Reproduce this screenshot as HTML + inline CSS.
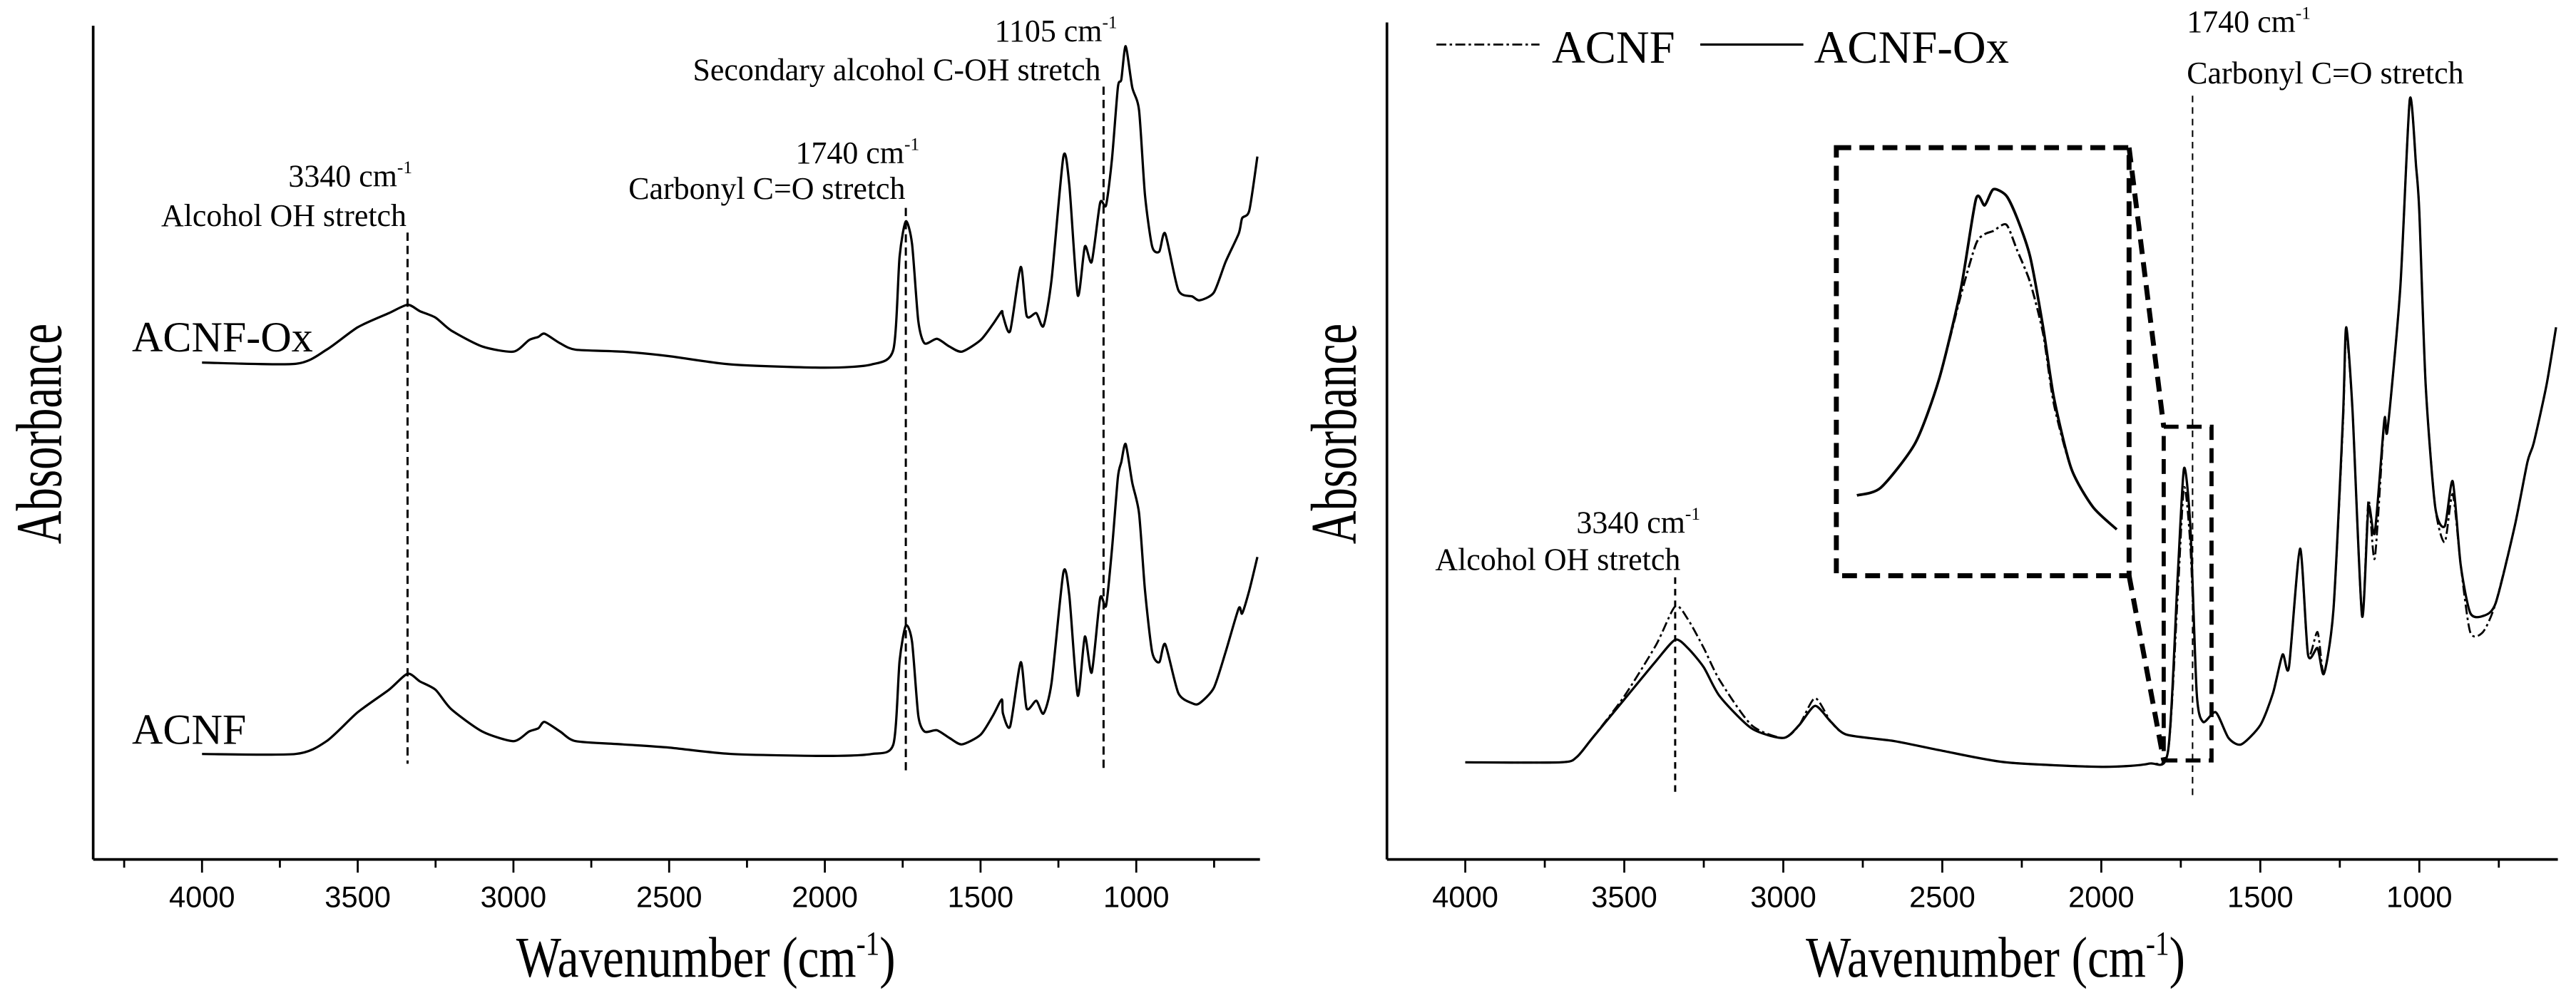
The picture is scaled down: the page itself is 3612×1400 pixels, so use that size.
<!DOCTYPE html>
<html><head><meta charset="utf-8"><style>
html,body{margin:0;padding:0;background:#fff;}
svg{display:block;}
.t{font-family:"Liberation Sans",Arial,sans-serif;font-size:18px;fill:#000;}
.s{font-family:"Liberation Serif","Times New Roman",serif;fill:#000;}
</style></head><body>
<svg id="fig" width="3612" height="1400" viewBox="0 0 1562 605" preserveAspectRatio="none" xmlns="http://www.w3.org/2000/svg">
<g id="left"></g>
<g id="right"></g>
</svg>
<script>
// ---- data ----
const leftWaves=[4000,3700,3600,3500,3400,3340,3300,3250,3200,3100,3000,2950,2920,2900,2850,2800,2650,2500,2300,2000,1850,1780,1760,1740,1720,1700,1680,1640,1600,1560,1500,1460,1432,1428,1405,1371,1352,1321,1298,1272,1234,1215,1188,1165,1143,1116,1097,1078,1059,1048,1034,1013,991,972,949,926,907,865,820,797,751,713,671,660,637,611];
const leftOx=[63.5,63.3,65.5,69,71.2,72.5,71.5,70.5,68.5,66,65.2,67,67.5,68,66.5,65.5,65.2,64.5,63.2,62.7,63.2,65.5,80,85.5,82,70,66.5,67.2,66,65.2,67,69.5,71.5,70.8,68.4,78.4,70.8,71.2,69.2,76.4,95.6,91.2,74,81.6,79.2,88.4,88,95.2,106.4,107.6,112.8,106.4,102.8,89.6,81.6,80.8,83.6,74.8,73.8,73.2,74.4,79.2,83.6,86,87.2,95.6];
const leftAcnf=[2.5,2.5,4.5,9,12.5,15,13.8,12.5,9.5,6,4.5,6,6.5,7.5,6,4.5,4,3.5,2.5,2.2,2.5,4,17,22.5,20,8.5,6,6.2,5,4,5.5,8.5,11,8.8,6.8,16.8,9.6,10.8,8.8,13.6,30.8,27.2,11.6,20.8,15.2,26.8,25.6,34.4,45.6,48,50.8,44.8,40,28,18.4,16.8,19.6,12,10.4,10.4,12.8,18.4,25.2,24.4,28,33.2];
const rightWaves=[4000,3700,3650,3600,3500,3400,3340,3300,3250,3200,3100,3000,2950,2900,2850,2800,2650,2500,2300,2000,1850,1790,1760,1740,1720,1700,1680,1640,1600,1560,1500,1460,1430,1410,1375,1350,1320,1300,1270,1240,1230,1210,1180,1160,1140,1110,1100,1060,1030,1010,1000,980,950,920,895,870,840,800,760,700,660,640,600,570];
const rightOx=[1.2,1.2,2,5,11,17,20.3,19,16,11.5,6.5,5,7,10,7.5,5.5,4.5,3,1.2,0.5,1,3,30,47,38,12,7.5,9,5,4,7,12,18,16,34.5,18,19,15,25,55,69,56,24,41,37,54.5,53,75,104.5,94,87,60,41,38,45,32,24.5,24,26,38,48,51,60,69];
const rightAcnf=[1.2,1.2,2,5,11.5,19.5,25.5,23.5,19,14,7,5,7,11.2,7.5,5.5,4.5,3,1.2,0.5,1,3,27,44,35,12,7.5,9,5,4,7,12,18,16,34.5,18,21.5,15,25,54,68,56,24,42,33,54.5,53,75,104.5,94,87,60,41,35.5,43,32,21.5,21.5,26,38,48,51,60,69];
const insetWaves=[1800,1789,1773,1762,1752,1745,1741,1737,1731,1726,1720,1714,1709,1701,1691,1680];
const insetOx=[12.8,14,21,31,45,59,58,60.5,59.5,56,50,39,28,17,11,7.5];
const insetAcnf=[12.8,14,21,31,44,52,53.5,54,55,51,46,38,27,17,11,7.5];
const tickLabels=["4000","3500","3000","2500","2000","1500","1000"];
const tickValues=[4000,3500,3000,2500,2000,1500,1000];

const NS="http://www.w3.org/2000/svg";
function mk(parent,tag,attrs,text){const e=document.createElementNS(NS,tag);for(const k in attrs)e.setAttribute(k,attrs[k]);if(text!==undefined)e.textContent=text;parent.appendChild(e);return e;}

// axis functions
const lx=w=>122.5+(4000-w)*0.18883;
const ly=a=>466.8-3.89*a;
const rx=w=>888.5+(4000-w)*0.19283;
const ry=a=>(1200-10*a)*0.389;
const ix=w=>781+0.5*(690+(1800-w)/120*315);
const iy=a=>(900-10*a)*0.389;

function pathD(ws,vs,fx,fy){
  const p=ws.map((w,i)=>[fx(w),fy(vs[i])]);
  let d='M'+p[0][0].toFixed(2)+' '+p[0][1].toFixed(2);
  const k=0.12;
  for(let i=0;i<p.length-1;i++){
    const p0=p[i-1]||p[i],p1=p[i],p2=p[i+1],p3=p[i+2]||p[i+1];
    const c1x=p1[0]+(p2[0]-p0[0])*k,c1y=p1[1]+(p2[1]-p0[1])*k;
    const c2x=p2[0]-(p3[0]-p1[0])*k,c2y=p2[1]-(p3[1]-p1[1])*k;
    d+=` C${c1x.toFixed(2)} ${c1y.toFixed(2)} ${c2x.toFixed(2)} ${c2y.toFixed(2)} ${p2[0].toFixed(2)} ${p2[1].toFixed(2)}`;
  }
  return d;
}

function axes(g,x0,x1,fx,wMax){
  const yA=mk(g,'line',{x1:x0,y1:(g.id==='left'?15.6:13.6),x2:x0,y2:521,stroke:'#000','stroke-width':1.6});
  
  
  const xA=mk(g,'line',{x1:x0,y1:521,x2:x1,y2:521,stroke:'#000','stroke-width':1.6});
  
  
  for(let w=4250;w>=wMax;w-=250){
    const x=fx(w);if(x<x0-0.5||x>x1+0.5)continue;
    const major=(w%500===0);
    const t=mk(g,'line',{x1:x,y1:521,x2:x,y2:major?529:526,stroke:'#000','stroke-width':1.2});
    
    
  }
  tickLabels.forEach((lab,i)=>{
    const t=mk(g,'text',{x:fx(tickValues[i]),y:550,'text-anchor':'middle',class:'t'},lab);
    
    
  });
  const tx=(g.id==='left'?428:1210);
  const xt=mk(g,'text',{x:0,y:0,'text-anchor':'middle',class:'s','font-size':29,transform:`translate(${tx} 592) scale(1 1.2)`});
  
  
  xt.innerHTML='Wavenumber (cm<tspan dy="-11" font-size="17">-1</tspan><tspan dy="11">)</tspan>';
  const yx=(g.id==='left'?37:822);
  const yt=mk(g,'text',{x:0,y:0,'text-anchor':'middle',class:'s','font-size':28,transform:`translate(${yx} 263) rotate(-90) scale(1 1.4)`},'Absorbance');
  
  
}
function label(g,x,y,anchor,size,main,name){
  const t=mk(g,'text',{x:x,y:y,'text-anchor':anchor,class:'s','font-size':size});
  
  
  t.innerHTML=main;
  return t;
}
function vdash(g,x,y1,y2,w,da,name){
  const l=mk(g,'line',{x1:x,y1:y1,x2:x,y2:y2,stroke:'#000','stroke-width':w,'stroke-dasharray':da});
  
  
}
const sup='<tspan dy="-8" font-size="11">-1</tspan>';

// ---- left panel ----
const L=document.getElementById('left');
axes(L,56.5,764,lx,600);
const pO=mk(L,'path',{d:pathD(leftWaves,leftOx,lx,ly),fill:'none',stroke:'#000','stroke-width':1.4,'stroke-linejoin':'round'});


const pA=mk(L,'path',{d:pathD(leftWaves,leftAcnf,lx,ly),fill:'none',stroke:'#000','stroke-width':1.4,'stroke-linejoin':'round'});


vdash(L,lx(3340),141,463,1.3,'5 3','oh-stretch-marker');
vdash(L,lx(1740),126,467,1.3,'5 3','carbonyl-marker');
vdash(L,lx(1105),52.5,467,1.3,'5 3','c-oh-marker');
label(L,250,113,'end',19,'3340 cm'+sup,'oh-wavenumber-label');
label(L,246.5,137,'end',19,'Alcohol OH stretch','oh-stretch-label');
label(L,557.5,99,'end',19,'1740 cm'+sup,'carbonyl-wavenumber-label');
label(L,549,120.6,'end',19,'Carbonyl C=O stretch','carbonyl-label');
label(L,677.5,25,'end',19,'1105 cm'+sup,'c-oh-wavenumber-label');
label(L,667.5,48.6,'end',19,'Secondary alcohol C-OH stretch','c-oh-label');
label(L,80,213,'start',26,'ACNF-Ox','acnf-ox-curve-label');
label(L,80,451,'start',26,'ACNF','acnf-curve-label');

// ---- right panel ----
const R=document.getElementById('right');
axes(R,841,1551,rx,570);
const rO=mk(R,'path',{d:pathD(rightWaves,rightOx,rx,ry),fill:'none',stroke:'#000','stroke-width':1.4,'stroke-linejoin':'round'});


const rA=mk(R,'path',{d:pathD(rightWaves,rightAcnf,rx,ry),fill:'none',stroke:'#000','stroke-width':1.2,'stroke-dasharray':'6 2 1.5 2'});


const iO=mk(R,'path',{d:pathD(insetWaves,insetOx,ix,iy),fill:'none',stroke:'#000','stroke-width':1.6,'stroke-linejoin':'round'});


const iA=mk(R,'path',{d:pathD(insetWaves,insetAcnf,ix,iy),fill:'none',stroke:'#000','stroke-width':1.3,'stroke-dasharray':'6 2 1.5 2'});


const box=mk(R,'rect',{x:1113.5,y:89.5,width:177.5,height:259.5,fill:'none',stroke:'#000','stroke-width':3,'stroke-dasharray':'9 5'});


const sbox=mk(R,'rect',{x:1312,y:258.7,width:29,height:202.3,fill:'none',stroke:'#000','stroke-width':2.5,'stroke-dasharray':'9 5'});


const c1=mk(R,'line',{x1:1291,y1:89.5,x2:1312,y2:258.7,stroke:'#000','stroke-width':3,'stroke-dasharray':'9 5'});


const c2=mk(R,'line',{x1:1291,y1:349,x2:1312,y2:461,stroke:'#000','stroke-width':3,'stroke-dasharray':'9 5'});


vdash(R,rx(3340),350,482,1.3,'4 3','oh-stretch-marker');
vdash(R,1329.5,58,482,0.9,'4 3','carbonyl-marker');
label(R,1031,323,'end',19,'3340 cm'+sup,'oh-wavenumber-label');
label(R,1019,345.5,'end',19,'Alcohol OH stretch','oh-stretch-label');
label(R,1326,19.5,'start',19,'1740 cm'+sup,'carbonyl-wavenumber-label');
label(R,1326,50.6,'start',19,'Carbonyl C=O stretch','carbonyl-label');
// legend
const lg=mk(R,'g',{});


const l1=mk(lg,'line',{x1:871,y1:27,x2:933.5,y2:27,stroke:'#000','stroke-width':1.2,'stroke-dasharray':'6 2 1.5 2'});


label(lg,941,38,'start',28,'ACNF','legend-acnf-label');
const l2=mk(lg,'line',{x1:1031,y1:27,x2:1093.5,y2:27,stroke:'#000','stroke-width':1.4});


label(lg,1100,38,'start',28,'ACNF-Ox','legend-acnf-ox-label');
</script>
</body></html>
